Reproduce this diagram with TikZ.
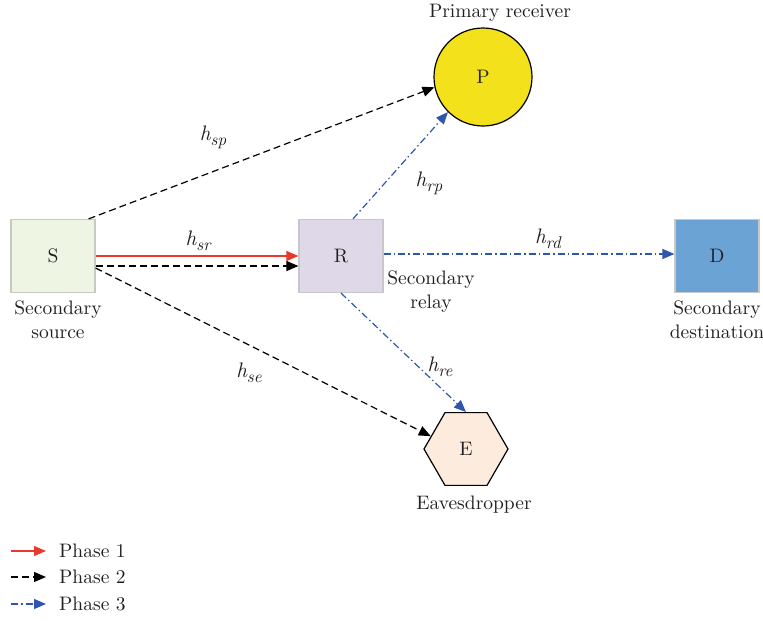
\documentclass[tikz,border=0pt]{standalone}
\usepackage{fontspec}
\setmainfont{lmroman10}[Extension=.otf, UprightFont=*-regular, ItalicFont=*-italic, BoldFont=*-bold]
\usetikzlibrary{arrows.meta,shapes.geometric,calc}
\definecolor{sfill}{HTML}{EFF5E3}
\definecolor{rfill}{HTML}{DFD8E8}
\definecolor{dfill}{HTML}{6CA3D5}
\definecolor{pfill}{HTML}{F2E11B}
\definecolor{efill}{HTML}{FDEBDD}
\definecolor{boxline}{HTML}{C8C8C8}
\definecolor{redc}{HTML}{E8392A}
\definecolor{bluec}{HTML}{2E55B0}
\definecolor{txt}{HTML}{231F20}
\newcommand{\chan}[1]{{\fontsize{21}{21}\selectfont\itshape h\raisebox{-5pt}{\fontsize{17}{17}\selectfont #1}}}
\begin{document}
\begin{tikzpicture}[x=1pt,y=-1pt,
  font=\fontsize{19.5}{24}\selectfont, text=txt,
  sqbox/.style={draw=boxline, line width=1.2pt, minimum width=84pt, minimum height=73pt, inner sep=0pt},
  lbl/.style={align=center, inner sep=0pt},
  tip/.style={-{Triangle[length=12pt,width=10pt]}},
  ph1/.style={tip, draw=redc, line width=1.2pt},
  ph2/.style={tip, draw=black, line width=1.2pt, dash pattern=on 7pt off 4pt},
  ph3/.style={tip, draw=bluec, line width=1.2pt, dash pattern=on 7pt off 3pt on 1.5pt off 3pt}]
\useasboundingbox (0,0) rectangle (763,621);
% nodes
\node[sqbox, fill=sfill] (S) at (53,256) {S};
\node[sqbox, fill=rfill] (R) at (341,256) {R};
\node[sqbox, fill=dfill] (D) at (717,256) {D};
\node[circle, draw=black, line width=1.2pt, fill=pfill, minimum size=98pt, inner sep=0pt] (P) at (483,77) {P};
\node[regular polygon, regular polygon sides=6, draw=black, line width=1.2pt, fill=efill, minimum size=84pt, inner sep=0pt] (E) at (466,449) {E};
% captions
\node[lbl] (Pcap) at (500,13) {Primary receiver};
\node[lbl] (Scap) at (58,320) {Secondary\\source};
\node[lbl] (Rcap) at (431,292) {Secondary\\relay};
\node[lbl] (Dcap) at (717,320) {Secondary\\destination};
\node[lbl] (Ecap) at (474,505) {Eavesdropper};
% channel labels
\node[lbl] (hsp) at (213,137) {\chan{sp}};
\node[lbl] (hsr) at (198,241) {\chan{sr}};
\node[lbl] (hrp) at (429,183) {\chan{rp}};
\node[lbl] (hrd) at (548,239) {\chan{rd}};
\node[lbl] (hre) at (440,367) {\chan{re}};
\node[lbl] (hse) at (249,373) {\chan{se}};
% connectors
\draw[ph1] (S.east) -- (R.west);
\draw[ph2] ($(S.east)+(0,10)$) -- ($(R.west)+(0,10)$);
\draw[ph2] ($(S.north east)+(-7,0)$) -- (P.192);
\draw[ph2] ($(S.east)+(0,12)$) -- (E.160);
\draw[ph3] ($(R.north)+(12,0)$) -- (P.225);
\draw[ph3] ($(R.east)+(0,-2)$) -- ($(D.west)+(0,-2)$);
\draw[ph3] (R.south) -- (E.north);
% legend
\coordinate (l1a) at (11,551); \coordinate (l1b) at (46,551);
\coordinate (l2a) at (11,577); \coordinate (l2b) at (46,577);
\coordinate (l3a) at (11,604); \coordinate (l3b) at (46,604);
\draw[ph1] (l1a) -- (l1b);
\draw[ph2] (l2a) -- (l2b);
\draw[ph3] (l3a) -- (l3b);
\node[lbl, anchor=west] (leg1) at (59,551) {Phase 1};
\node[lbl, anchor=west] (leg2) at (59,577) {Phase 2};
\node[lbl, anchor=west] (leg3) at (59,604) {Phase 3};
\end{tikzpicture}
\end{document}
